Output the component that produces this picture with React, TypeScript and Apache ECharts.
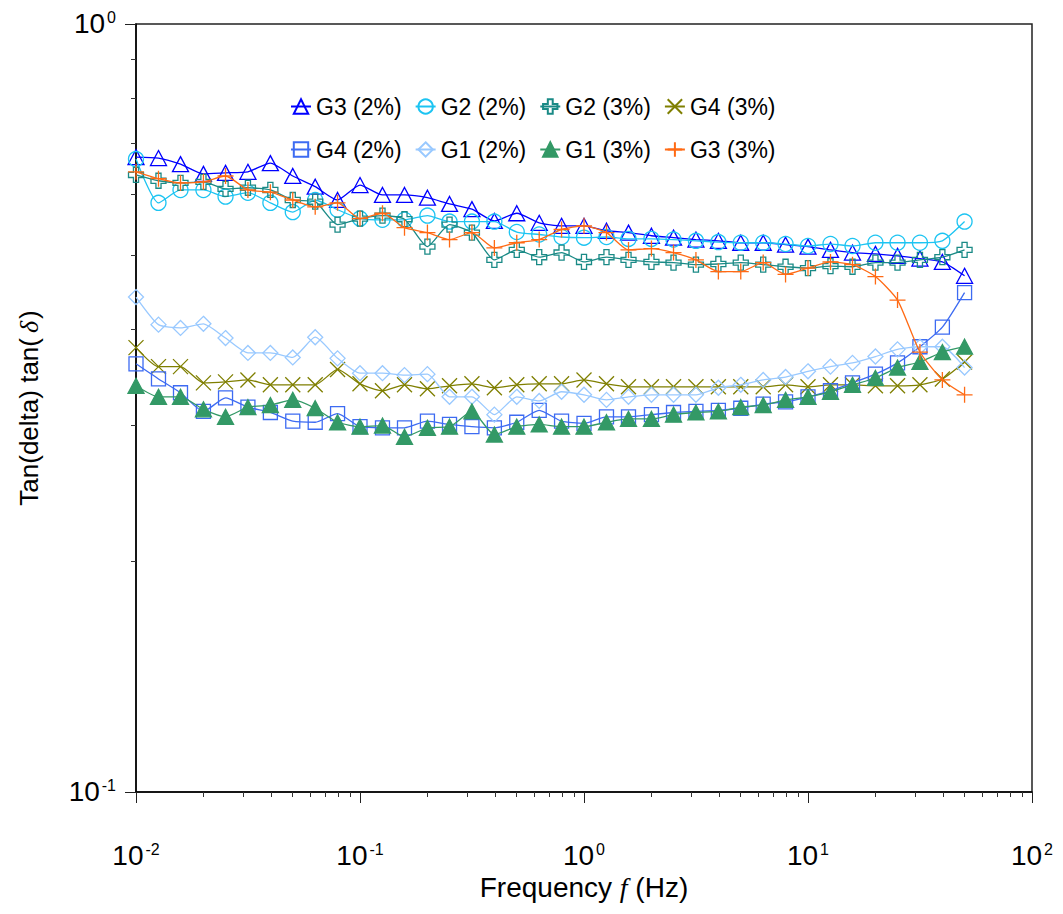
import React, { useEffect, useRef } from 'react';
import * as echarts from 'echarts';

// Frequencies (Hz)
const FREQ = [
  0.01, 0.0126, 0.0158, 0.02, 0.0251, 0.0316, 0.0398, 0.0501, 0.0631, 0.0794,
  0.1, 0.126, 0.158, 0.2, 0.251, 0.316, 0.398, 0.501, 0.631, 0.794,
  1, 1.26, 1.58, 2, 2.51, 3.16, 3.98, 5.01, 6.31, 7.94,
  10, 12.6, 15.8, 20, 25.1, 31.6, 39.8, 50,
];

const G3_2 = [
  0.671, 0.669, 0.657, 0.638, 0.640, 0.642, 0.659, 0.634, 0.614, 0.590,
  0.617, 0.599, 0.599, 0.594, 0.583, 0.574, 0.554, 0.567, 0.551, 0.546,
  0.546, 0.538, 0.535, 0.530, 0.527, 0.524, 0.522, 0.519, 0.519, 0.516,
  0.513, 0.508, 0.504, 0.502, 0.499, 0.495, 0.490, 0.470,
];
const G2_2 = [
  0.667, 0.585, 0.608, 0.608, 0.596, 0.603, 0.585, 0.569, 0.590, 0.573,
  0.558, 0.556, 0.556, 0.563, 0.553, 0.553, 0.553, 0.536, 0.532, 0.528,
  0.527, 0.528, 0.525, 0.525, 0.524, 0.522, 0.520, 0.519, 0.519, 0.517,
  0.514, 0.517, 0.514, 0.519, 0.519, 0.519, 0.522, 0.553,
];
const G2_3 = [
  0.636, 0.625, 0.621, 0.623, 0.610, 0.612, 0.608, 0.590, 0.587, 0.548,
  0.558, 0.563, 0.557, 0.513, 0.548, 0.535, 0.493, 0.508, 0.497, 0.504,
  0.490, 0.497, 0.493, 0.490, 0.489, 0.486, 0.487, 0.489, 0.486, 0.483,
  0.481, 0.484, 0.483, 0.489, 0.489, 0.493, 0.497, 0.508,
];
const G4_3 = [
  0.379, 0.358, 0.358, 0.341, 0.342, 0.344, 0.339, 0.339, 0.339, 0.355,
  0.340, 0.333, 0.339, 0.335, 0.338, 0.340, 0.336, 0.339, 0.340, 0.340,
  0.344, 0.340, 0.337, 0.337, 0.337, 0.337, 0.337, 0.337, 0.337, 0.339,
  0.337, 0.339, 0.339, 0.338, 0.338, 0.339, 0.345, 0.363,
];
const G4_2 = [
  0.361, 0.345, 0.331, 0.313, 0.326, 0.317, 0.312, 0.304, 0.303, 0.311,
  0.299, 0.298, 0.298, 0.304, 0.301, 0.299, 0.298, 0.303, 0.314, 0.304,
  0.302, 0.308, 0.308, 0.310, 0.312, 0.313, 0.314, 0.316, 0.320, 0.322,
  0.327, 0.333, 0.341, 0.350, 0.362, 0.380, 0.403, 0.447,
];
const G1_2 = [
  0.441, 0.406, 0.402, 0.407, 0.390, 0.373, 0.373, 0.368, 0.391, 0.367,
  0.351, 0.351, 0.349, 0.350, 0.327, 0.327, 0.310, 0.327, 0.323, 0.332,
  0.329, 0.324, 0.327, 0.329, 0.329, 0.329, 0.336, 0.339, 0.344, 0.347,
  0.353, 0.358, 0.362, 0.369, 0.377, 0.380, 0.380, 0.357,
];
const G1_3 = [
  0.338, 0.327, 0.327, 0.315, 0.308, 0.317, 0.319, 0.324, 0.316, 0.303,
  0.299, 0.300, 0.290, 0.298, 0.299, 0.313, 0.292, 0.299, 0.301, 0.299,
  0.299, 0.303, 0.306, 0.306, 0.310, 0.312, 0.313, 0.317, 0.319, 0.324,
  0.327, 0.332, 0.339, 0.346, 0.357, 0.363, 0.374, 0.380,
];
const G3_3 = [
  0.642, 0.629, 0.621, 0.623, 0.634, 0.608, 0.604, 0.590, 0.578, 0.585,
  0.558, 0.567, 0.543, 0.535, 0.524, 0.535, 0.511, 0.519, 0.524, 0.540,
  0.546, 0.535, 0.508, 0.510, 0.504, 0.493, 0.476, 0.476, 0.489, 0.472,
  0.481, 0.490, 0.486, 0.469, 0.437, 0.374, 0.344, 0.329,
];

const SERIES_NAMES = ['G3 (2%)', 'G2 (2%)', 'G2 (3%)', 'G4 (3%)', 'G4 (2%)', 'G1 (2%)', 'G1 (3%)', 'G3 (3%)'];
const SERIES_VALUES = [G3_2, G2_2, G2_3, G4_3, G4_2, G1_2, G1_3, G3_3];

// tick labels
const X_MAJOR = [0.01, 0.1, 1, 10, 100];
const X_EXP = ['-2', '-1', '0', '1', '2'];
const X_MINOR = [
  0.02, 0.03, 0.04, 0.05, 0.06, 0.07, 0.08, 0.09,
  0.2, 0.3, 0.4, 0.5, 0.6, 0.7, 0.8, 0.9,
  2, 3, 4, 5, 6, 7, 8, 9,
  20, 30, 40, 50, 60, 70, 80, 90,
];
const Y_MAJOR = [0.1, 1];
const Y_EXP = ['-1', '0'];
const Y_MINOR = [0.2, 0.3, 0.4, 0.5, 0.6, 0.7, 0.8, 0.9];

// styles
const PLUS_OUTLINE = 'path://M3.3,0 H6.7 V3.3 H10 V6.7 H6.7 V10 H3.3 V6.7 H0 V3.3 H3.3 Z';
const X_MARK = 'path://M0,0 L10,10 M10,0 L0,10';
const PLUS_THIN = 'path://M5,0 L5,10 M0,5 L10,5';

const STYLES = [
  { color: '#0000ff', symbol: 'triangle', fill: false, size: [16, 15] },
  { color: '#1cc4f2', symbol: 'circle', fill: false, size: 15 },
  { color: '#1a8a86', symbol: PLUS_OUTLINE, fill: false, size: 15 },
  { color: '#7f7f00', symbol: X_MARK, fill: true, size: 15 },
  { color: '#3d6bf2', symbol: 'rect', fill: false, size: 14 },
  { color: '#99c9ff', symbol: 'diamond', fill: false, size: 15 },
  { color: '#339966', symbol: 'triangle', fill: true, size: [16, 15] },
  { color: '#ff6a14', symbol: PLUS_THIN, fill: true, size: 16 },
];

const TICK_FONT = '"Liberation Sans Narrow", "Liberation Sans", Arial, sans-serif';
const SANS = '"Liberation Sans", Arial, sans-serif';

function expIndex(list: number[], v: number) {
  return list.findIndex((m) => Math.abs(Math.log10(m) - Math.log10(v)) < 1e-6);
}

const richTick = {
  b: { fontSize: 28, fontFamily: TICK_FONT, color: '#000', verticalAlign: 'top', lineHeight: 30 },
  s: { fontSize: 16, fontFamily: TICK_FONT, color: '#000', verticalAlign: 'top', lineHeight: 22, padding: [0, 0, 0, 2] },
};

export default function App() {
  const ref = useRef<HTMLDivElement>(null);

  useEffect(() => {
    if (!ref.current) return;
    const chart = echarts.init(ref.current, undefined, { renderer: 'svg' });

    const series = SERIES_NAMES.map((name, k) => {
      const st = STYLES[k];
      return {
        type: 'line',
        name,
        xAxisIndex: 0,
        yAxisIndex: 0,
        data: FREQ.map((f, i) => [f, SERIES_VALUES[k][i]]),
        symbol: st.symbol,
        symbolSize: st.size,
        smooth: 0.2,
        showSymbol: true,
        lineStyle: { color: st.color, width: 1.3 },
        itemStyle: {
          color: st.fill ? st.color : 'rgba(255,255,255,0)',
          borderColor: st.color,
          borderWidth: 1.3,
        },
        emphasis: { disabled: true },
        z: 3 + k,
      };
    });

    const legendCommon = {
      orient: 'horizontal',
      padding: 0,
      itemWidth: 20,
      itemHeight: 18,
      itemGap: 13,
      left: 290,
      textStyle: { fontSize: 23, fontFamily: SANS, color: '#000' },
      selectedMode: false,
    };

    chart.setOption({
      animation: false,
      backgroundColor: '#fff',
      grid: {
        left: 136,
        right: 31,
        top: 24,
        bottom: 122,
        show: true,
        borderColor: '#222',
        borderWidth: 1.5,
        backgroundColor: 'transparent',
      },
      legend: [
        { ...legendCommon, top: 95, data: SERIES_NAMES.slice(0, 4) },
        { ...legendCommon, top: 138, data: SERIES_NAMES.slice(4, 8) },
      ],
      xAxis: [
        {
          type: 'log',
          logBase: 10,
          min: 0.01,
          max: 100,
          position: 'bottom',
          axisLine: { show: true, lineStyle: { color: '#000', width: 1.5 } },
          axisTick: { show: true, inside: false, length: 11, lineStyle: { color: '#222', width: 1 } },
          splitLine: { show: false },
          minorTick: { show: false },
          axisLabel: {
            margin: 49,
            formatter: (v: number) => {
              const i = expIndex(X_MAJOR, v);
              return i >= 0 ? `{b|10}{s|${X_EXP[i]}}` : '';
            },
            rich: richTick,
          },
          name: '{n|Frequency }{i|f}{n| (Hz)}',
          nameLocation: 'middle',
          nameGap: 80,
          nameTextStyle: {
            rich: {
              n: { fontSize: 28, fontFamily: SANS, color: '#000' },
              i: { fontSize: 28, fontFamily: '"Liberation Serif", serif', fontStyle: 'italic', color: '#000' },
            },
          },
        },
        {
          type: 'log',
          logBase: 10,
          min: 0.01,
          max: 100,
          position: 'bottom',
          axisLine: { show: false },
          axisLabel: { show: false },
          splitLine: { show: false },
          axisTick: {
            show: true,
            inside: false,
            length: 5,
            customValues: X_MINOR,
            lineStyle: { color: '#333', width: 1 },
          },
        },
      ],
      yAxis: [
        {
          type: 'log',
          logBase: 10,
          min: 0.1,
          max: 1,
          position: 'left',
          axisLine: { show: true, lineStyle: { color: '#000', width: 1.5 } },
          axisTick: { show: true, inside: false, length: 11, lineStyle: { color: '#222', width: 1 } },
          splitLine: { show: false },
          axisLabel: {
            margin: 20,
            formatter: (v: number) => {
              const i = expIndex(Y_MAJOR, v);
              return i >= 0 ? `{b|10}{s|${Y_EXP[i]}}` : '';
            },
            rich: richTick,
          },
          name: '{n|Tan(delta) tan(}{i|δ}{n|)}',
          nameLocation: 'middle',
          nameRotate: 90,
          nameGap: 94,
          nameTextStyle: {
            rich: {
              n: { fontSize: 26, fontFamily: SANS, color: '#000' },
              i: { fontSize: 26, fontFamily: '"Liberation Serif", serif', fontStyle: 'italic', color: '#000', padding: [0, 2, 0, 5] },
            },
          },
        },
        {
          type: 'log',
          logBase: 10,
          min: 0.1,
          max: 1,
          position: 'left',
          axisLine: { show: false },
          axisLabel: { show: false },
          splitLine: { show: false },
          axisTick: {
            show: true,
            inside: false,
            length: 5,
            customValues: Y_MINOR,
            lineStyle: { color: '#333', width: 1 },
          },
        },
      ],
      series,
    });

    return () => chart.dispose();
  }, []);

  return (
    <div
      ref={ref}
      style={{ position: 'fixed', left: 0, top: 0, width: 1063, height: 914 }}
    />
  );
}
